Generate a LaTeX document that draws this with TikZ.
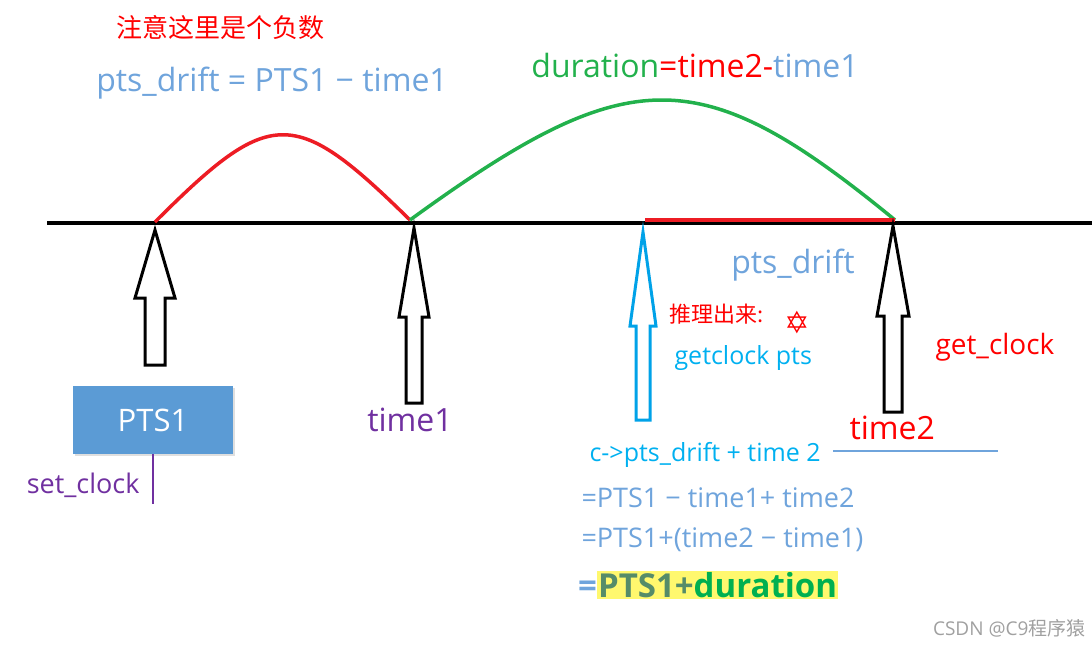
\documentclass[tikz,border=0pt]{standalone}
\usepackage{fontspec}
\setmainfont{Open Sans}
\newfontfamily\cjk{Noto Sans CJK SC}
\newfontfamily\symb{DejaVu Sans}
\usepackage{xcolor}
\usetikzlibrary{shadows}

\definecolor{arcred}{RGB}{237,28,36}
\definecolor{arcgreen}{RGB}{34,177,76}
\definecolor{txtblue}{RGB}{111,164,220}
\definecolor{cyanblue}{RGB}{0,162,232}
\definecolor{cyantxt}{RGB}{0,176,240}
\definecolor{boxblue}{RGB}{91,155,213}
\definecolor{purp}{RGB}{112,48,160}
\definecolor{txtred}{RGB}{255,0,0}
\definecolor{hly}{RGB}{255,248,110}
\definecolor{mixgreen}{RGB}{85,140,105}
\definecolor{durgreen}{RGB}{0,176,80}
\definecolor{wmgray}{RGB}{160,160,160}
\newcommand\fsz[1]{\fontsize{#1}{#1}\selectfont}
\setlength{\fboxsep}{1pt}

\begin{document}
\begin{tikzpicture}[x=1pt,y=-1pt,
  hollow/.style={line width=3pt,line join=miter,fill=white}]
  \useasboundingbox (0,0) rectangle (1092,645);
  % time axis and its points
  \coordinate (axl) at (47,223);
  \coordinate (axr) at (1092,223);
  \draw[line width=4pt] (axl) -- (axr);
  \coordinate (pts1) at (155,222);
  \coordinate (t1) at (410,220);
  \coordinate (gc) at (645,220);
  \coordinate (t2) at (895,220);
  \draw[arcred,line width=3.5pt] (pts1) .. controls (271,106) and (294,106) .. (t1);
  \draw[arcgreen,line width=3.5pt] (t1) .. controls (630,60) and (700,60) .. (t2);
  \draw[arcred,line width=4pt] (gc) -- (t2);
  % hollow arrows
  \foreach \x/\tip/\hb/\bot/\hw/\sw/\col in {155/230/298/365/20/10/black,
      414/228/317/403/15/8/black, 643/232/326/420/13/7/cyanblue,
      893/226/316/412/16/9/black}
    \draw[hollow,draw=\col] (\x,\tip) -- (\x+\hw,\hb) -- (\x+\sw,\hb) -- (\x+\sw,\bot)
      -- (\x-\sw,\bot) -- (\x-\sw,\hb) -- (\x-\hw,\hb) -- cycle;
  % labels above
  \node[txtred,font=\cjk\fsz{26}] (note) at (220,28) {注意这里是个负数};
  \node[txtblue,font=\fsz{32}] (drift) at (272,83) {pts\_drift = PTS1 − time1};
  \node[font=\fsz{32}] (dur) at (695,65)
    {\color{arcgreen}duration\color{txtred}=time2-\color{txtblue}time1};
  % labels below
  \node[fill=boxblue,text=white,font=\fsz{31},minimum width=160pt,minimum height=68pt,
    drop shadow={opacity=0.25,shadow xshift=2pt,shadow yshift=-2pt}] (ptsbox) at (153,420) {PTS1};
  \draw[purp,line width=2.5pt] (ptsbox.south) -- ++(0,50);
  \node[purp,font=\fsz{27},anchor=east] (setclk) at (143,485) {set\_clock};
  \node[purp,font=\fsz{32}] (time1) at (410,420) {time1};
  \node[txtblue,font=\fsz{32}] (drift2) at (793,265) {pts\_drift};
  \node[txtred,font=\cjk\fsz{22},anchor=west] (infer) at (666,314) {推理出来:};
  \node[txtred,font=\symb\bfseries\fsz{30}] (star) at (797,323) {✡};
  \node[cyantxt,font=\fsz{25},anchor=west] (getpts) at (671,358) {getclock pts};
  \node[txtred,font=\fsz{28},anchor=west] (getclk) at (932,347) {get\_clock};
  \node[txtred,font=\fsz{32},anchor=west] (time2) at (846,428) {time2};
  % derivation
  \node[cyantxt,font=\fsz{25},anchor=west] (sum) at (586,455) {c->pts\_drift + time 2};
  \coordinate (lnl) at (833,451);
  \coordinate (lnr) at (998,451);
  \draw[txtblue,line width=2pt] (lnl) -- (lnr);
  \node[txtblue,font=\fsz{27},anchor=west] (eq1) at (578,498) {=PTS1 − time1+ time2};
  \node[txtblue,font=\fsz{27},anchor=west] (eq2) at (578,540) {=PTS1+(time2 − time1)};
  \node[font=\bfseries\fsz{33},anchor=west,inner sep=0pt] (eq3) at (578,585)
    {\color{txtblue}=\colorbox{hly}{\color{mixgreen}PTS1+\color{durgreen}duration}};
  \node[wmgray,font=\fsz{19},anchor=east] (wm) at (1089,628) {CSDN @C9{\cjk 程序猿}};
\end{tikzpicture}
\end{document}
